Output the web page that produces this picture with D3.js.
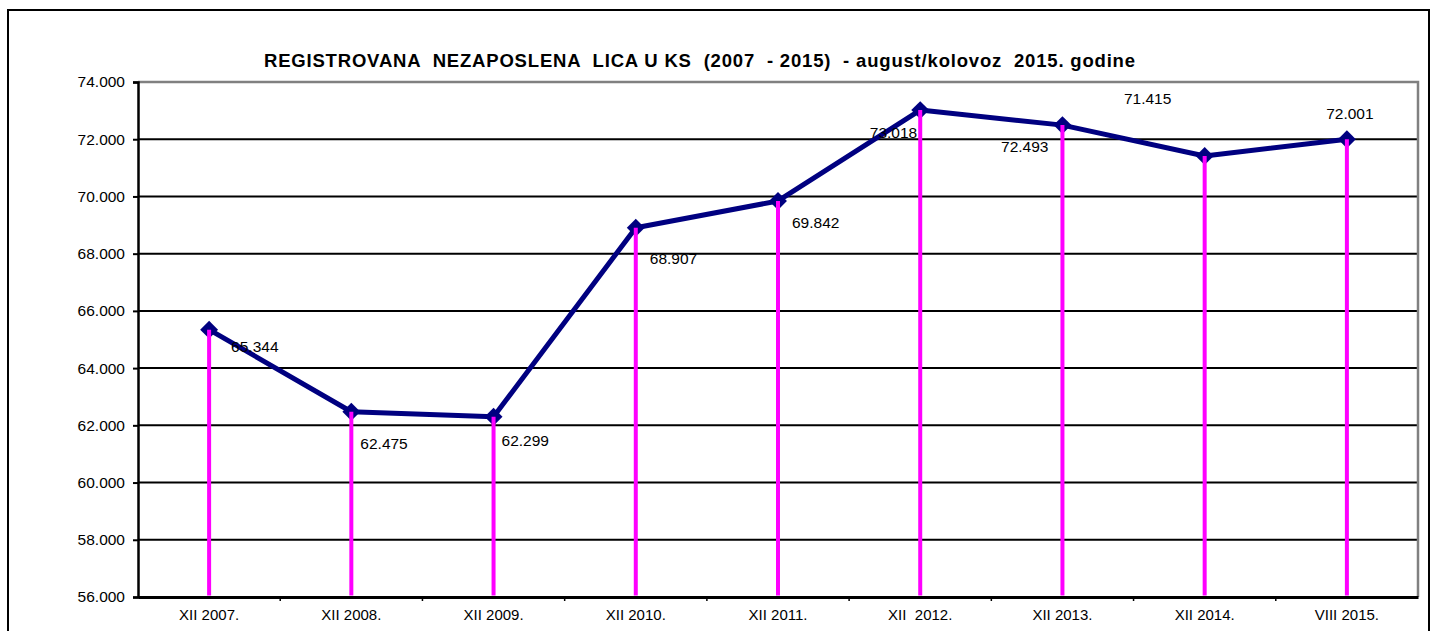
<html>
<head>
  <title>Nezaposlena lica KS</title>
  <script src="https://d3js.org/d3.v7.min.js"></script>
  <style>
    body { margin: 0; background: #fff; }
    text { font-family: "Liberation Sans", Arial, sans-serif; }
  </style>
</head>
<body>
<script>
  var categories = ["XII 2007.", "XII 2008.", "XII 2009.", "XII 2010.", "XII 2011.", "XII  2012.", "XII 2013.", "XII 2014.", "VIII 2015."];
  var values = [65344, 62475, 62299, 68907, 69842, 73018, 72493, 71415, 72001];
  var valueLabels = ["65.344", "62.475", "62.299", "68.907", "69.842", "73.018", "72.493", "71.415", "72.001"];
  var yTicks = [56000, 58000, 60000, 62000, 64000, 66000, 68000, 70000, 72000, 74000];
  var title = "REGISTROVANA  NEZAPOSLENA  LICA U KS  (2007  - 2015)  - august/kolovoz  2015. godine";

  // label placement around each point: dx, dy, anchor
  var labelPos = [
    [22, 17, "start"], [9, 32, "start"], [8, 24, "start"], [14, 31, "start"], [14, 22, "start"],
    [-3, 22, "end"], [-14, 21, "end"], [-57, -57, "middle"], [3, -26, "middle"]
  ];

  var W = 1436, H = 631;
  var pLeft = 138, pTop = 82, pRight = 1418, pBottom = 597;

  var svg = d3.select("body").append("svg")
      .attr("width", W)
      .attr("height", H);

  // outer frame
  svg.append("rect")
     .attr("x", 8).attr("y", 10)
     .attr("width", 1421).attr("height", 650)
     .attr("fill", "#fff")
     .attr("stroke", "#000")
     .attr("stroke-width", 2);

  var x = d3.scaleBand().domain(categories).range([pLeft, pRight]);
  var y = d3.scaleLinear().domain([56000, 74000]).range([pBottom, pTop]);
  var fmt = function(d){ return d3.format(",")(d).replace(",", "."); };

  svg.append("text")
     .attr("x", 264).attr("y", 67)
     .attr("font-size", 18.5)
     .attr("font-weight", "bold")
     .attr("textLength", 871)
     .attr("lengthAdjust", "spacing")
     .style("white-space", "pre")
     .text(title);

  // gridlines
  svg.append("g").selectAll("line")
     .data(yTicks.slice(1, -1))
     .enter().append("line")
     .attr("x1", pLeft).attr("x2", pRight)
     .attr("y1", function(d){ return y(d); })
     .attr("y2", function(d){ return y(d); })
     .attr("stroke", "#000")
     .attr("stroke-width", 2);

  // plot border top/right
  svg.append("path")
     .attr("d", "M" + pLeft + "," + pTop + "H" + pRight + "V" + pBottom)
     .attr("fill", "none")
     .attr("stroke", "#808080")
     .attr("stroke-width", 2.5);

  // y axis
  var yAxis = svg.append("g")
     .attr("transform", "translate(" + pLeft + ",0)")
     .call(d3.axisLeft(y).tickValues(yTicks).tickSize(5).tickPadding(8).tickFormat(fmt));
  yAxis.select(".domain").attr("stroke", "#000").attr("stroke-width", 2.5);
  yAxis.selectAll(".tick line").attr("stroke", "#000").attr("stroke-width", 2);
  yAxis.selectAll("text").attr("font-size", 15.5).attr("fill", "#000")
     .style("font-family", "'Liberation Sans', Arial, sans-serif");

  // x axis with ticks at band edges
  var xAxis = svg.append("g")
     .attr("transform", "translate(0," + pBottom + ")")
     .call(d3.axisBottom(x).tickSize(0).tickPadding(12));
  xAxis.select(".domain").attr("stroke", "#000").attr("stroke-width", 3);
  xAxis.selectAll("text").attr("font-size", 15).attr("fill", "#000")
     .style("white-space", "pre")
     .style("font-family", "'Liberation Sans', Arial, sans-serif");
  xAxis.selectAll(".edge")
     .data(categories.slice(1))
     .enter().append("line")
     .attr("x1", function(d){ return x(d); })
     .attr("x2", function(d){ return x(d); })
     .attr("y1", 0).attr("y2", 4)
     .attr("stroke", "#000").attr("stroke-width", 1.5);

  var cx = function(i){ return x(categories[i]) + x.bandwidth() / 2; };

  // series line
  var line = d3.line()
     .x(function(d, i){ return cx(i); })
     .y(function(d){ return y(d); });
  svg.append("path")
     .datum(values)
     .attr("d", line)
     .attr("fill", "none")
     .attr("stroke", "#000080")
     .attr("stroke-width", 5)
     .attr("stroke-linejoin", "round");

  // diamond markers
  svg.append("g").selectAll("path")
     .data(values)
     .enter().append("path")
     .attr("d", d3.symbol().type(d3.symbolSquare).size(160))
     .attr("transform", function(d, i){ return "translate(" + cx(i) + "," + y(d) + ") rotate(45)"; })
     .attr("fill", "#000080");

  // drop lines
  svg.append("g").selectAll("line")
     .data(values)
     .enter().append("line")
     .attr("x1", function(d, i){ return cx(i); })
     .attr("x2", function(d, i){ return cx(i); })
     .attr("y1", function(d){ return y(d); })
     .attr("y2", pBottom - 1.5)
     .attr("stroke", "#ff00ff")
     .attr("stroke-width", 4);

  // value labels
  svg.append("g").selectAll("text")
     .data(values)
     .enter().append("text")
     .attr("x", function(d, i){ return cx(i) + labelPos[i][0]; })
     .attr("y", function(d, i){ return y(d) + labelPos[i][1]; })
     .attr("dy", "0.35em")
     .attr("text-anchor", function(d, i){ return labelPos[i][2]; })
     .attr("font-size", 15.5)
     .text(function(d, i){ return valueLabels[i]; });
</script>
</body>
</html>
